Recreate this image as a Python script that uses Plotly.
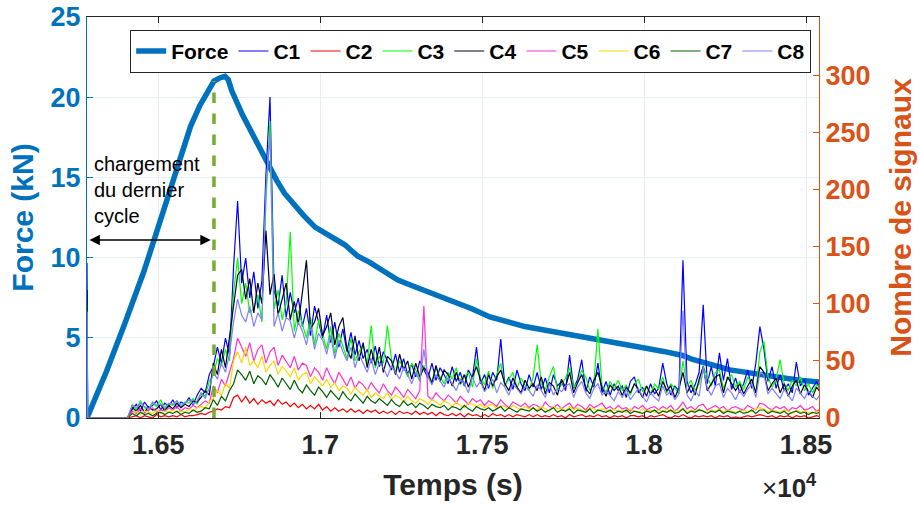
import plotly.graph_objects as go

# ---------------- DATA ----------------
# Force curve (time in s, force in kN)
t_force = [16280, 16340, 16397, 16428, 16455, 16484, 16515, 16545, 16567, 16600,
           16629, 16655, 16672, 16690, 16706, 16716, 16727, 16760, 16805, 16830,
           16851, 16866, 16890, 16922, 16950, 16984, 17030, 17076, 17115, 17153,
           17200, 17240, 17290, 17345, 17380, 17425, 17470, 17524, 17580, 17632,
           17700, 17765, 17830, 17894, 17940, 17993, 18060, 18119, 18150, 18187,
           18230, 18265, 18340, 18419, 18480, 18540]
force_kN = [0, 2.9, 5.9, 7.5, 9.1, 10.9, 12.9, 14.8, 16.2, 18.2,
            19.5, 20.5, 21.0, 21.2, 21.3, 21.1, 20.4, 18.9, 17.1, 16.1,
            15.4, 14.8, 14.0, 13.2, 12.6, 11.9, 11.3, 10.8, 10.1, 9.7,
            9.1, 8.6, 8.2, 7.8, 7.5, 7.2, 6.8, 6.3, 6.0, 5.7,
            5.45, 5.2, 4.95, 4.7, 4.55, 4.4, 4.15, 3.9, 3.65, 3.4,
            3.2, 3.0, 2.75, 2.5, 2.35, 2.25]

# Signal counts: sample times (s): end of previous cycle, then 12.5 s bins
t_signal = [16280, 16282, 16405] + [16420 + 12.5 * j for j in range(171)]

C1 = [136, 0, 0,
      8, 12, 6, 14, 9, 11, 15, 7, 13, 10,
      16, 9, 14, 12, 18, 11, 20, 26, 22, 38,
      45, 62, 48, 70, 55, 132, 190, 118, 140, 105,
      128, 96, 120, 213, 281, 112, 98, 125, 88, 110,
      92, 105, 80, 96, 72, 98, 85, 70, 90, 66,
      84, 62, 78, 58, 75, 55, 68, 52, 60, 48,
      63, 45, 58, 50, 42, 56, 40, 52, 38, 47,
      36, 50, 42, 35, 48, 33, 44, 38, 30, 45,
      32, 40, 28, 42, 35, 62, 30, 38, 26, 40,
      33, 69, 28, 36, 25, 42, 30, 24, 38, 27,
      40, 25, 35, 22, 38, 28, 32, 24, 55, 26,
      34, 51, 23, 36, 27, 48, 22, 32, 20, 30,
      24, 28, 18, 32, 36, 22, 27, 19, 30, 21,
      26, 48, 30, 20, 28, 24, 138, 32, 22, 29,
      40, 99, 30, 45, 28, 57, 33, 52, 25, 35,
      22, 30, 42, 26, 48, 80, 60, 32, 45, 26,
      38, 24, 30, 22, 49, 28, 34, 20, 26, 32,
      24]
C2 = [10, 0, 0,
      1, 2, 0, 2, 1, 0, 3, 1, 2, 1,
      2, 1, 3, 1, 2, 2, 3, 4, 3, 5,
      6, 8, 7, 10, 9, 18, 20, 14, 19, 13,
      17, 12, 16, 13, 15, 11, 16, 12, 14, 10,
      13, 9, 12, 8, 11, 8, 12, 7, 10, 6,
      9, 6, 8, 5, 8, 5, 7, 4, 7, 5,
      7, 4, 6, 4, 6, 3, 6, 4, 5, 3,
      6, 3, 5, 3, 5, 2, 5, 3, 2, 4,
      2, 4, 1, 4, 2, 3, 1, 3, 1, 4,
      2, 3, 1, 3, 1, 3, 2, 1, 3, 1,
      3, 1, 2, 1, 3, 1, 2, 0, 3, 1,
      2, 3, 1, 2, 1, 3, 1, 2, 0, 2,
      1, 2, 0, 2, 2, 1, 2, 0, 2, 1,
      2, 3, 1, 0, 2, 1, 3, 1, 0, 2,
      1, 2, 1, 2, 0, 2, 1, 2, 0, 1,
      0, 1, 2, 1, 2, 3, 2, 1, 2, 0,
      2, 1, 2, 0, 2, 1, 2, 0, 1, 2,
      1]
C3 = [100, 0, 0,
      12, 7, 15, 9, 6, 13, 10, 16, 8, 12,
      11, 15, 9, 14, 13, 17, 12, 22, 19, 32,
      38, 52, 46, 60, 50, 110, 140, 100, 118, 92,
      96, 108, 84, 190, 260, 95, 112, 86, 100, 163,
      76, 94, 82, 70, 88, 64, 86, 74, 60, 80,
      56, 74, 62, 52, 70, 50, 58, 64, 46, 81,
      44, 54, 48, 81, 52, 40, 50, 44, 36, 48,
      42, 34, 46, 38, 32, 44, 36, 30, 40, 34,
      44, 29, 36, 40, 27, 52, 34, 29, 41, 26,
      38, 48, 28, 34, 40, 26, 35, 29, 24, 36,
      64, 30, 25, 36, 45, 24, 30, 35, 44, 27,
      31, 42, 36, 24, 30, 78, 28, 22, 32, 26,
      33, 24, 29, 20, 30, 34, 23, 28, 21, 30,
      25, 36, 22, 30, 26, 21, 50, 28, 33, 24,
      30, 46, 36, 28, 40, 42, 26, 34, 38, 27,
      32, 25, 36, 30, 22, 58, 67, 36, 27, 34,
      51, 30, 24, 33, 28, 36, 24, 30, 22, 29,
      27]
C4 = [112, 0, 0,
      9, 6, 11, 5, 10, 7, 8, 12, 6, 11,
      8, 13, 9, 12, 10, 15, 14, 18, 24, 20,
      48, 38, 60, 44, 70, 96, 125, 130, 104, 122,
      92, 118, 100, 164, 108, 126, 90, 104, 118, 86,
      102, 82, 110, 138, 78, 84, 96, 72, 80, 92,
      64, 80, 88, 60, 52, 72, 50, 66, 44, 60,
      46, 62, 40, 54, 50, 38, 56, 42, 50, 34,
      48, 36, 44, 40, 30, 46, 32, 42, 38, 28,
      40, 30, 38, 27, 36, 45, 33, 24, 38, 28,
      36, 42, 30, 24, 35, 27, 22, 33, 26, 30,
      24, 36, 21, 31, 28, 20, 34, 27, 40, 22,
      31, 38, 26, 21, 33, 40, 27, 19, 29, 24,
      28, 20, 27, 22, 30, 25, 18, 28, 21, 26,
      19, 32, 24, 28, 18, 26, 40, 22, 29, 20,
      34, 45, 24, 30, 36, 38, 22, 36, 30, 24,
      30, 21, 28, 34, 22, 45, 40, 24, 30, 35,
      22, 30, 19, 28, 33, 21, 29, 24, 18, 27,
      22]
C5 = [93, 0, 0,
      6, 4, 8, 5, 7, 9, 5, 7, 6, 9,
      7, 10, 6, 9, 8, 11, 9, 12, 15, 13,
      28, 22, 34, 28, 40, 52, 70, 62, 54, 66,
      50, 60, 64, 48, 58, 62, 46, 55, 50, 44,
      54, 42, 48, 46, 36, 44, 40, 33, 44, 36,
      30, 40, 34, 28, 36, 26, 32, 29, 24, 31,
      26, 22, 30, 24, 20, 27, 23, 18, 25, 21,
      17, 24, 98, 19, 16, 22, 18, 15, 20, 17,
      13, 19, 15, 12, 17, 14, 16, 11, 15, 13,
      10, 16, 12, 9, 14, 12, 10, 13, 9, 12,
      11, 8, 14, 10, 9, 12, 8, 11, 13, 8,
      12, 10, 7, 12, 9, 11, 13, 8, 10, 7,
      11, 8, 9, 6, 10, 8, 11, 7, 9, 10,
      7, 10, 8, 11, 6, 9, 14, 8, 10, 7,
      11, 12, 7, 9, 11, 8, 10, 6, 9, 10,
      8, 7, 11, 9, 7, 13, 12, 9, 7, 10,
      8, 10, 6, 9, 8, 11, 7, 8, 10, 6,
      8]
C6 = [40, 0, 0,
      4, 6, 3, 6, 5, 4, 7, 4, 6, 5,
      7, 5, 6, 5, 8, 6, 9, 10, 9, 14,
      17, 24, 20, 30, 26, 50, 58, 48, 62, 46,
      50, 44, 54, 40, 46, 50, 38, 45, 41, 36,
      44, 33, 38, 40, 30, 36, 32, 28, 34, 27,
      31, 24, 28, 26, 21, 27, 23, 20, 25, 18,
      22, 19, 17, 22, 16, 20, 18, 14, 19, 15,
      13, 17, 15, 12, 16, 14, 11, 15, 13, 10,
      14, 11, 9, 13, 12, 10, 12, 9, 11, 12,
      8, 11, 10, 8, 11, 9, 7, 10, 8, 9,
      7, 10, 8, 6, 10, 8, 9, 6, 10, 7,
      9, 7, 6, 9, 8, 6, 8, 7, 5, 8,
      6, 7, 5, 8, 6, 5, 8, 6, 7, 5,
      7, 6, 8, 5, 7, 6, 9, 5, 7, 6,
      8, 6, 5, 7, 6, 8, 5, 7, 6, 5,
      6, 7, 5, 6, 8, 9, 8, 5, 7, 6,
      5, 7, 6, 4, 7, 5, 6, 5, 4, 6,
      5]
C7 = [30, 0, 0,
      4, 2, 5, 3, 4, 2, 4, 5, 3, 5,
      4, 6, 3, 5, 4, 7, 5, 6, 9, 8,
      16, 11, 19, 15, 24, 30, 42, 38, 33, 41,
      30, 37, 34, 29, 38, 33, 27, 35, 30, 25,
      33, 26, 22, 29, 24, 20, 27, 23, 18, 24,
      20, 16, 23, 18, 15, 21, 17, 13, 19, 15,
      13, 17, 14, 11, 16, 12, 10, 15, 11, 13,
      9, 13, 11, 8, 12, 10, 9, 11, 7, 10,
      9, 7, 11, 8, 6, 10, 8, 7, 9, 6,
      8, 10, 6, 9, 7, 5, 8, 7, 6, 9,
      6, 8, 5, 7, 9, 5, 7, 6, 8, 4,
      7, 6, 5, 8, 4, 7, 6, 5, 7, 4,
      6, 5, 7, 4, 6, 5, 4, 6, 5, 7,
      4, 6, 5, 7, 4, 5, 8, 4, 6, 5,
      7, 6, 4, 6, 5, 7, 4, 6, 5, 4,
      6, 4, 5, 7, 4, 7, 7, 4, 6, 5,
      4, 6, 3, 5, 6, 4, 5, 3, 5, 4,
      5]
C8 = [93, 0, 0,
      11, 9, 13, 10, 8, 14, 11, 12, 9, 13,
      12, 15, 11, 13, 16, 12, 15, 22, 17, 26,
      40, 34, 48, 40, 56, 84, 104, 90, 84, 98,
      80, 92, 86, 200, 248, 80, 92, 76, 88, 85,
      70, 84, 76, 64, 82, 60, 74, 68, 56, 72,
      52, 68, 58, 50, 62, 44, 56, 48, 40, 52,
      38, 48, 44, 36, 46, 40, 34, 44, 38, 30,
      40, 32, 60, 36, 29, 38, 33, 27, 36, 30,
      24, 34, 30, 22, 36, 27, 32, 23, 29, 34,
      22, 31, 27, 20, 30, 25, 21, 28, 24, 19,
      29, 24, 18, 30, 20, 26, 23, 28, 30, 18,
      27, 32, 22, 17, 26, 30, 20, 24, 19, 15,
      23, 18, 25, 16, 21, 26, 19, 14, 22, 18,
      15, 28, 20, 24, 16, 21, 94, 20, 15, 24,
      19, 45, 26, 20, 28, 30, 18, 26, 22, 16,
      24, 19, 25, 30, 18, 40, 38, 21, 26, 22,
      17, 25, 20, 15, 26, 22, 17, 24, 19, 16,
      21]

series_names = ["C1", "C2", "C3", "C4", "C5", "C6", "C7", "C8"]
series_values = [C1, C2, C3, C4, C5, C6, C7, C8]
series_colors = ["#0000FF", "#FF0000", "#00FF00", "#00002E", "#FF33CC",
                 "#FFD700", "#006000", "#8080FF"]

# end of last loading cycle (vertical dashed marker), in counts on right axis
marker_time = [16672, 16672]
marker_level = [0, 295]

x_tickvals = [16500, 17000, 17500, 18000, 18500]
x_ticktext = ["1.65", "1.7", "1.75", "1.8", "1.85"]

# ---------------- FIGURE ----------------
FONT = "Liberation Sans, Arial, Helvetica, sans-serif"
BLUE = "#0072BD"
ORANGE = "#D95319"
DARK = "#262626"

fig = go.Figure()

fig.add_trace(go.Scatter(x=t_force, y=force_kN, mode="lines", name="Force",
                         line=dict(color=BLUE, width=5.5), yaxis="y"))

for name, vals, col in zip(series_names, series_values, series_colors):
    fig.add_trace(go.Scatter(x=t_signal, y=vals, mode="lines", name=name,
                             line=dict(color=col, width=1.2), yaxis="y2"))

fig.add_trace(go.Scatter(x=marker_time, y=marker_level, mode="lines",
                         line=dict(color="#77AC30", width=3.5, dash="dash"),
                         showlegend=False, hoverinfo="skip", yaxis="y2"))

fig.update_layout(
    width=919, height=506,
    margin=dict(l=87, r=100, t=17, b=88),
    paper_bgcolor="white", plot_bgcolor="white",
    font=dict(family=FONT, color=DARK),
    xaxis=dict(range=[16280, 18540], tickvals=x_tickvals, ticktext=x_ticktext,
               automargin=False, ticklabeloverflow="allow",
               showgrid=True, gridcolor="#EBEBEB", gridwidth=1,
               showline=True, linecolor=DARK, linewidth=1, mirror="ticks",
               ticks="inside", ticklen=6, tickcolor=DARK, ticklabelstandoff=3,
               tickfont=dict(size=27, weight="bold", color=DARK),
               title=dict(text="Temps (s)", font=dict(size=30, weight="bold", color=DARK),
                          standoff=14),
               zeroline=False),
    yaxis=dict(range=[0, 25], tickvals=[0, 5, 10, 15, 20, 25],
               automargin=False, ticklabeloverflow="allow",
               showgrid=True, gridcolor="#E6EEF6", gridwidth=1,
               showline=True, linecolor=BLUE, linewidth=1,
               ticks="inside", ticklen=6, tickcolor=BLUE,
               tickfont=dict(size=27, weight="bold", color=BLUE),
               title=dict(text="Force (kN)", font=dict(size=30, weight="bold", color=BLUE),
                          standoff=8),
               zeroline=False),
    yaxis2=dict(range=[0, 351], tickvals=[0, 50, 100, 150, 200, 250, 300],
                overlaying="y", side="right", showgrid=False, automargin=False,
                ticklabeloverflow="allow",
                showline=True, linecolor=ORANGE, linewidth=1,
                ticks="inside", ticklen=6, tickcolor=ORANGE,
                tickfont=dict(size=27, weight="bold", color=ORANGE),
                title=dict(text="Nombre de signaux", font=dict(size=30, weight="bold", color=ORANGE),
                           standoff=20),
                zeroline=False),
    legend=dict(orientation="h", x=0.059, y=0.968, xanchor="left", yanchor="top",
                bgcolor="white", bordercolor=DARK, borderwidth=1,
                font=dict(size=21, weight="bold", color="black"),
                itemwidth=30, tracegroupgap=0),
    showlegend=True,
)

# Double-headed arrow: duration of last loading
fig.add_annotation(x=16662, y=11.1, ax=16283, ay=11.1, xref="x", yref="y",
                   axref="x", ayref="y", showarrow=True, arrowhead=2, startarrowhead=2,
                   arrowside="end+start", arrowsize=1.3, arrowwidth=1.6,
                   arrowcolor="black", text="")
fig.add_annotation(x=0.007, y=0.665, xref="paper", yref="paper", xanchor="left",
                   yanchor="top", align="left", showarrow=False,
                   text="chargement<br>du dernier<br>cycle",
                   font=dict(size=20, color="black", family=FONT))
fig.add_annotation(x=1.0, y=-0.17, xref="paper", yref="paper", xanchor="right",
                   yanchor="middle", showarrow=False,
                   text="×<b>10<sup>4</sup></b>",
                   font=dict(size=26, color=DARK, family=FONT))

# remove the default 8 px page margin so the 919x506 figure fills the window
fig.write_html("out.html", config={"displayModeBar": False},
               post_script="document.body.style.margin='0px';")
